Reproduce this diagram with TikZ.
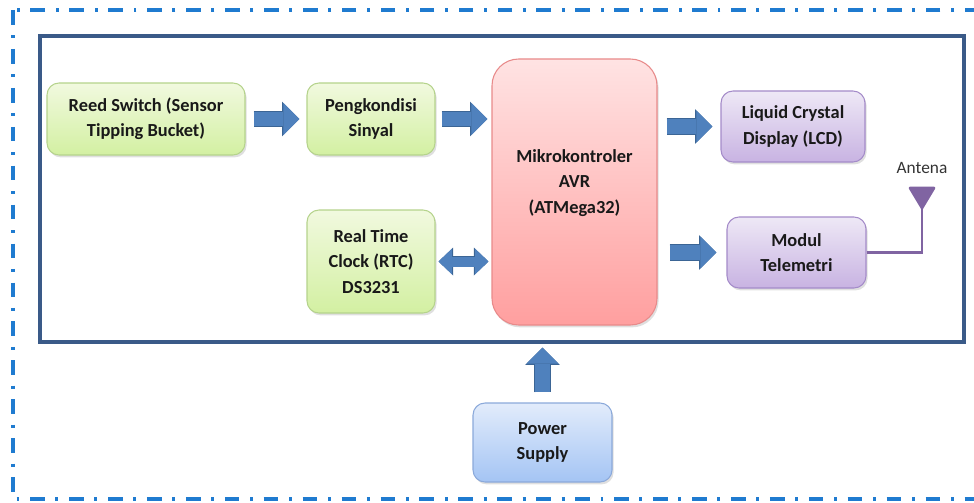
\documentclass[tikz,border=0pt]{standalone}
\usepackage{fontspec}
\setmainfont{Carlito}
\usetikzlibrary{arrows.meta,positioning,shadows}
\definecolor{greentop}{HTML}{F1F9DF}
\definecolor{greenbot}{HTML}{D3F0A2}
\definecolor{greenline}{HTML}{B5D38C}
\definecolor{redtop}{HTML}{FFE3E3}
\definecolor{redbot}{HTML}{FF9F9F}
\definecolor{redline}{HTML}{E88A8A}
\definecolor{purptop}{HTML}{EEE8F6}
\definecolor{purpbot}{HTML}{C8B3E2}
\definecolor{purpline}{HTML}{A48BC9}
\definecolor{bluetop}{HTML}{E2ECFB}
\definecolor{bluebot}{HTML}{A4C4F4}
\definecolor{blueline}{HTML}{8BA9DA}
\definecolor{arrowblue}{HTML}{4F81BD}
\definecolor{arrowedge}{HTML}{3B6595}
\definecolor{antpurple}{HTML}{8064A2}
\definecolor{framecol}{HTML}{3A5A88}
\definecolor{dashcol}{HTML}{1F7BD0}
\tikzset{
  block/.style={rounded corners=9pt, line width=0.8pt, align=center, inner sep=0pt,
    font=\bfseries\fontsize{13.8}{19}\selectfont, text=black!90,
    drop shadow={opacity=0.25, shadow xshift=1.2pt, shadow yshift=-1.8pt}},
  greenblock/.style={block, draw=greenline, top color=greentop, bottom color=greenbot},
  redblock/.style={block, draw=redline, top color=redtop, bottom color=redbot, rounded corners=20pt},
  purpblock/.style={block, draw=purpline, top color=purptop, bottom color=purpbot},
  blueblock/.style={block, draw=blueline, top color=bluetop, bottom color=bluebot},
  fatarrow/.style={draw=arrowblue, line width=11pt,
    -{Triangle[length=12pt, width=24pt, line width=0pt]},
    preaction={draw=arrowedge, line width=12.4pt,
      -{Triangle[length=13pt, width=26pt, line width=0pt]}}},
  twinarrow/.style={draw=arrowblue, line width=7.5pt,
    {Triangle[length=10pt, width=19pt, line width=0pt]}-{Triangle[length=10pt, width=19pt, line width=0pt]},
    preaction={draw=arrowedge, line width=8.9pt,
      {Triangle[length=11pt, width=21pt, line width=0pt]}-{Triangle[length=11pt, width=21pt, line width=0pt]}}},
  antline/.style={draw=antpurple, line width=2pt},
  frame/.style={draw=framecol, line width=2.4pt},
  dashframe/.style={draw=dashcol, line width=2.4pt, dash pattern=on 11pt off 8pt on 2.2pt off 8pt}
}
\begin{document}
\begin{tikzpicture}[x=0.75pt, y=-0.75pt]
  \useasboundingbox (0,0) rectangle (974,503);
  \draw[dashframe] (13,10) rectangle (1000,499);
  \draw[frame] (40,36) rectangle (964,342);

  \node[greenblock, minimum width=148.5pt, minimum height=54pt] (reed) at (146,119) {Reed Switch (Sensor\\Tipping Bucket)};
  \node[greenblock, minimum width=96pt, minimum height=54pt] (sinyal) at (371,119) {Pengkondisi\\Sinyal};
  \node[greenblock, minimum width=96pt, minimum height=77.25pt] (rtc) at (371,261.5) {Real Time\\Clock (RTC)\\DS3231};
  \node[redblock, minimum width=123.75pt, minimum height=199.5pt] (mcu) at (574.5,192)
    {\begin{tabular}{@{}c@{}}Mikrokontroler\\AVR\\(ATMega32)\\[14pt]\end{tabular}};
  \node[purpblock, minimum width=108pt, minimum height=53.25pt] (lcd) at (793,126.5) {Liquid Crystal\\Display (LCD)};
  \node[purpblock, minimum width=104.25pt, minimum height=53.25pt] (telemetri) at (796.5,252.5) {Modul\\Telemetri};
  \node[blueblock, minimum width=104.25pt, minimum height=59.25pt] (power) at (542.5,442.5) {Power\\Supply};

  % antenna
  \coordinate (ant) at (922,208);
  \node[font=\fontsize{13}{15}\selectfont, text=black!80] (antena) at (922,168) {Antena};
  \draw[antline] (telemetri.east) -| (ant);
  \draw[antline, fill=antpurple, line join=round] (ant) -- ++(-12,-20) -- ++(24,0) -- cycle;

  % arrows
  \draw[fatarrow, shorten <=6pt, shorten >=5.25pt] (reed.east) -- (sinyal.west);
  \draw[fatarrow, shorten <=4.5pt, shorten >=3pt] (sinyal.east) -- (sinyal.east -| mcu.west);
  \draw[fatarrow, shorten <=6.75pt, shorten >=6pt] (mcu.east |- lcd.west) -- (lcd.west);
  \draw[fatarrow, shorten <=9pt, shorten >=7.5pt] (mcu.east |- telemetri.west) -- (telemetri.west);
  \draw[twinarrow, shorten <=2.25pt, shorten >=2.25pt] (rtc.east) -- (rtc.east -| mcu.west);
  \draw[fatarrow, shorten <=7.5pt, shorten >=16.5pt] (power.north) -- (power.north |- mcu.south);
\end{tikzpicture}
\end{document}
